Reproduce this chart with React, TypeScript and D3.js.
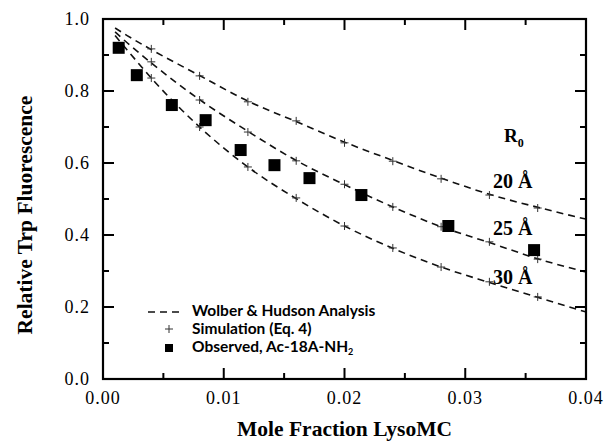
import React from "react";
import * as d3 from "d3";

// Wolber & Hudson analysis curves
const curveX = [0.001, 0.002, 0.004, 0.008, 0.012, 0.016, 0.02, 0.024, 0.028, 0.032, 0.036, 0.04];
const curve20 = [0.975, 0.954, 0.915, 0.843, 0.772, 0.715, 0.658, 0.607, 0.558, 0.513, 0.477, 0.444];
const curve25 = [0.964, 0.934, 0.878, 0.776, 0.688, 0.607, 0.540, 0.478, 0.423, 0.379, 0.334, 0.297];
const curve30 = [0.954, 0.914, 0.836, 0.700, 0.589, 0.501, 0.425, 0.363, 0.311, 0.268, 0.227, 0.186];

// Simulation (Eq. 4) crosses
const simX = [0.004, 0.008, 0.012, 0.016, 0.02, 0.024, 0.028, 0.032, 0.036];
const sim20 = [0.917, 0.842, 0.770, 0.717, 0.656, 0.605, 0.556, 0.511, 0.475];
const sim25 = [0.881, 0.775, 0.686, 0.606, 0.541, 0.478, 0.423, 0.381, 0.333];
const sim30 = [0.836, 0.700, 0.589, 0.503, 0.425, 0.364, 0.311, 0.270, 0.228];

// Observed, Ac-18A-NH2
const obsX = [0.0013, 0.0028, 0.0057, 0.0085, 0.0114, 0.0142, 0.0171, 0.0214, 0.0286, 0.0357];
const obsY = [0.920, 0.844, 0.761, 0.719, 0.636, 0.594, 0.558, 0.511, 0.425, 0.358];

const curveLabels = ["20 Å", "25 Å", "30 Å"];
const xTickLabels = ["0.00", "0.01", "0.02", "0.03", "0.04"];
const yTickLabels = ["0.0", "0.2", "0.4", "0.6", "0.8", "1.0"];

export default function App() {
  const L = 103, R = 586, T = 19, B = 379;
  const x = d3.scaleLinear().domain([0, 0.04]).range([L, R]);
  const y = d3.scaleLinear().domain([0, 1]).range([B, T]);
  const line = d3
    .line<[number, number]>()
    .x((d) => x(d[0]))
    .y((d) => y(d[1]))
    .curve(d3.curveMonotoneX);

  const curves = [curve20, curve25, curve30];
  const sims = [sim20, sim25, sim30];
  const labelY = [0.53, 0.40, 0.265];

  const xMinor = d3.range(0, 9).map((i) => i * 0.005);
  const yMinor = d3.range(0, 11).map((i) => i * 0.1);
  const serif = "'Liberation Serif', 'Times New Roman', serif";
  const sans = "Lato, 'Open Sans', sans-serif";

  return (
    <svg
      width={605}
      height={441}
      style={{ position: "absolute", left: 0, top: 0, background: "#fff" }}
    >
      <rect x={0} y={0} width={605} height={441} fill="#fff" />
      {/* curves */}
      {curves.map((c, i) => (
        <path
          key={"c" + i}
          d={line(curveX.map((xv, j) => [xv, c[j]] as [number, number])) || ""}
          fill="none"
          stroke="#111"
          strokeWidth={1.6}
          strokeDasharray="7,5"
        />
      ))}
      {/* crosses */}
      {sims.map((s, i) =>
        simX.map((xv, j) => {
          const cx = x(xv), cy = y(s[j]);
          return (
            <g key={"s" + i + "-" + j} stroke="#333" strokeWidth={1}>
              <line x1={cx - 4} x2={cx + 4} y1={cy} y2={cy} />
              <line x1={cx} x2={cx} y1={cy - 4} y2={cy + 4} />
            </g>
          );
        })
      )}
      {/* observed squares */}
      {obsX.map((xv, i) => (
        <rect
          key={"o" + i}
          x={x(xv) - 6}
          y={y(obsY[i]) - 6}
          width={12}
          height={12}
          fill="#000"
        />
      ))}
      {/* ticks */}
      {xMinor.map((t, i) => {
        const len = i % 2 === 0 ? 11 : 6;
        const px = x(t);
        return (
          <g key={"xt" + i} stroke="#000" strokeWidth={2}>
            <line x1={px} x2={px} y1={B} y2={B - len} />
            <line x1={px} x2={px} y1={T} y2={T + len} />
          </g>
        );
      })}
      {yMinor.map((t, i) => {
        const len = i % 2 === 0 ? 11 : 6;
        const py = y(t);
        return (
          <g key={"yt" + i} stroke="#000" strokeWidth={2}>
            <line x1={L} x2={L + len} y1={py} y2={py} />
            <line x1={R} x2={R - len} y1={py} y2={py} />
          </g>
        );
      })}
      <rect x={L} y={T} width={R - L} height={B - T} fill="none" stroke="#000" strokeWidth={2.2} />
      {/* tick labels */}
      {xTickLabels.map((lab, i) => (
        <text
          key={"xl" + i}
          x={x(i * 0.01)}
          y={404}
          textAnchor="middle"
          fontFamily={serif}
          fontSize={18}
          letterSpacing={1}
        >
          {lab}
        </text>
      ))}
      {yTickLabels.map((lab, i) => (
        <text
          key={"yl" + i}
          x={90}
          y={y(i * 0.2) + 6}
          textAnchor="end"
          fontFamily={serif}
          fontSize={18}
          letterSpacing={1}
        >
          {lab}
        </text>
      ))}
      {/* axis titles */}
      <text
        x={(L + R) / 2}
        y={436}
        textAnchor="middle"
        fontFamily={serif}
        fontWeight="bold"
        fontSize={21.5}
      >
        Mole Fraction LysoMC
      </text>
      <text
        transform={`translate(32,${(85 + 345) / 2}) rotate(-90)`}
        textAnchor="middle"
        fontFamily={serif}
        fontWeight="bold"
        fontSize={21.5}
      >
        Relative Trp Fluorescence
      </text>
      {/* R0 labels */}
      <text x={504} y={142} fontFamily={serif} fontWeight="bold" fontSize={19}>
        R<tspan fontSize={12} dy={5}>0</tspan>
      </text>
      {curveLabels.map((lab, i) => (
        <text
          key={"cl" + i}
          x={493}
          y={y(labelY[i])}
          fontFamily={serif}
          fontWeight="bold"
          fontSize={20}
        >
          {lab}
        </text>
      ))}
      {/* legend */}
      <line x1={148} x2={184} y1={312} y2={312} stroke="#111" strokeWidth={1.6} strokeDasharray="7,5" />
      <g stroke="#333" strokeWidth={1}>
        <line x1={165} x2={173} y1={329} y2={329} />
        <line x1={169} x2={169} y1={325} y2={333} />
      </g>
      <rect x={165} y={344} width={8} height={8} fill="#000" />
      <g fontFamily={sans} fontWeight="bold" fontSize={15.5}>
        <text x={192} y={316}>Wolber &amp; Hudson Analysis</text>
        <text x={192} y={334}>Simulation (Eq. 4)</text>
        <text x={192} y={352}>
          Observed, Ac-18A-NH<tspan fontSize={9} dy={3}>2</tspan>
        </text>
      </g>
    </svg>
  );
}
